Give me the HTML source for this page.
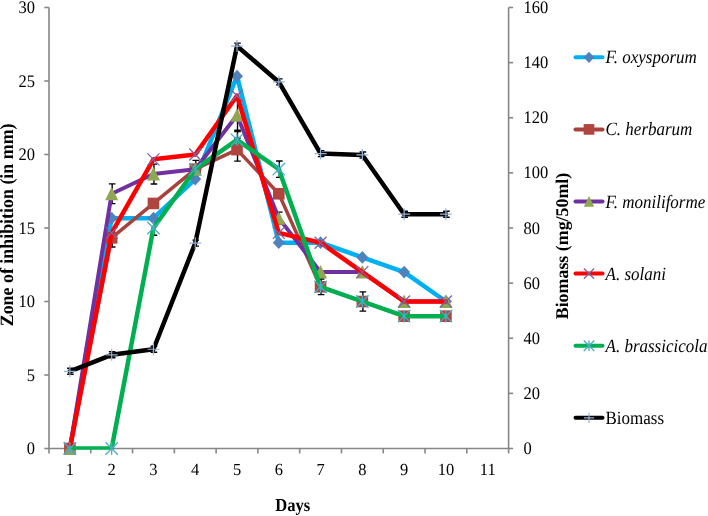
<!DOCTYPE html>
<html><head><meta charset="utf-8"><style>
html,body{margin:0;padding:0;background:#fff;width:708px;height:516px;overflow:hidden}
svg{display:block;filter:blur(0.3px)}
text{font-family:"Liberation Serif",serif;fill:#000;text-rendering:geometricPrecision}
</style></head><body>
<svg width="708" height="516" viewBox="0 0 708 516">
<rect width="708" height="516" fill="#fff"/>
<defs><clipPath id="pc"><rect x="0" y="0" width="708" height="449.8"/></clipPath></defs>

<g stroke="#868686" stroke-width="1.6" fill="none"><line x1="49.0" y1="7.5" x2="49.0" y2="448.5" /><line x1="508.6" y1="7.5" x2="508.6" y2="448.5" /><line x1="49.0" y1="448.5" x2="508.6" y2="448.5" /><line x1="44.3" y1="448.50" x2="49.0" y2="448.50" /><line x1="44.3" y1="375.00" x2="49.0" y2="375.00" /><line x1="44.3" y1="301.50" x2="49.0" y2="301.50" /><line x1="44.3" y1="228.00" x2="49.0" y2="228.00" /><line x1="44.3" y1="154.50" x2="49.0" y2="154.50" /><line x1="44.3" y1="81.00" x2="49.0" y2="81.00" /><line x1="44.3" y1="7.50" x2="49.0" y2="7.50" /><line x1="508.6" y1="448.50" x2="513.1" y2="448.50" /><line x1="508.6" y1="393.38" x2="513.1" y2="393.38" /><line x1="508.6" y1="338.25" x2="513.1" y2="338.25" /><line x1="508.6" y1="283.12" x2="513.1" y2="283.12" /><line x1="508.6" y1="228.00" x2="513.1" y2="228.00" /><line x1="508.6" y1="172.88" x2="513.1" y2="172.88" /><line x1="508.6" y1="117.75" x2="513.1" y2="117.75" /><line x1="508.6" y1="62.62" x2="513.1" y2="62.62" /><line x1="508.6" y1="7.50" x2="513.1" y2="7.50" /><line x1="49.00" y1="448.5" x2="49.00" y2="453.4" /><line x1="90.78" y1="448.5" x2="90.78" y2="453.4" /><line x1="132.56" y1="448.5" x2="132.56" y2="453.4" /><line x1="174.35" y1="448.5" x2="174.35" y2="453.4" /><line x1="216.13" y1="448.5" x2="216.13" y2="453.4" /><line x1="257.91" y1="448.5" x2="257.91" y2="453.4" /><line x1="299.69" y1="448.5" x2="299.69" y2="453.4" /><line x1="341.47" y1="448.5" x2="341.47" y2="453.4" /><line x1="383.25" y1="448.5" x2="383.25" y2="453.4" /><line x1="425.04" y1="448.5" x2="425.04" y2="453.4" /><line x1="466.82" y1="448.5" x2="466.82" y2="453.4" /><line x1="508.60" y1="448.5" x2="508.60" y2="453.4" /></g>
<text transform="translate(34.9,454.10) scale(1,1.07)" text-anchor="end" font-size="16.5">0</text><text transform="translate(34.9,380.60) scale(1,1.07)" text-anchor="end" font-size="16.5">5</text><text transform="translate(34.9,307.10) scale(1,1.07)" text-anchor="end" font-size="16.5">10</text><text transform="translate(34.9,233.60) scale(1,1.07)" text-anchor="end" font-size="16.5">15</text><text transform="translate(34.9,160.10) scale(1,1.07)" text-anchor="end" font-size="16.5">20</text><text transform="translate(34.9,86.60) scale(1,1.07)" text-anchor="end" font-size="16.5">25</text><text transform="translate(34.9,13.10) scale(1,1.07)" text-anchor="end" font-size="16.5">30</text><text transform="translate(523.5,454.10) scale(1,1.07)" font-size="16.5">0</text><text transform="translate(523.5,398.98) scale(1,1.07)" font-size="16.5">20</text><text transform="translate(523.5,343.85) scale(1,1.07)" font-size="16.5">40</text><text transform="translate(523.5,288.73) scale(1,1.07)" font-size="16.5">60</text><text transform="translate(523.5,233.60) scale(1,1.07)" font-size="16.5">80</text><text transform="translate(523.5,178.47) scale(1,1.07)" font-size="16.5">100</text><text transform="translate(523.5,123.35) scale(1,1.07)" font-size="16.5">120</text><text transform="translate(523.5,68.22) scale(1,1.07)" font-size="16.5">140</text><text transform="translate(523.5,13.10) scale(1,1.07)" font-size="16.5">160</text><text transform="translate(69.89,475.2) scale(1,1.03)" text-anchor="middle" font-size="16.5">1</text><text transform="translate(111.67,475.2) scale(1,1.03)" text-anchor="middle" font-size="16.5">2</text><text transform="translate(153.45,475.2) scale(1,1.03)" text-anchor="middle" font-size="16.5">3</text><text transform="translate(195.24,475.2) scale(1,1.03)" text-anchor="middle" font-size="16.5">4</text><text transform="translate(237.02,475.2) scale(1,1.03)" text-anchor="middle" font-size="16.5">5</text><text transform="translate(278.80,475.2) scale(1,1.03)" text-anchor="middle" font-size="16.5">6</text><text transform="translate(320.58,475.2) scale(1,1.03)" text-anchor="middle" font-size="16.5">7</text><text transform="translate(362.36,475.2) scale(1,1.03)" text-anchor="middle" font-size="16.5">8</text><text transform="translate(404.15,475.2) scale(1,1.03)" text-anchor="middle" font-size="16.5">9</text><text transform="translate(445.93,475.2) scale(1,1.03)" text-anchor="middle" font-size="16.5">10</text><text transform="translate(487.71,475.2) scale(1,1.03)" text-anchor="middle" font-size="16.5">11</text>
<text transform="translate(12.8,224.9) rotate(-90) scale(1,1.05)" text-anchor="middle" font-size="17.9" font-weight="bold">Zone of inhibition (in mm)</text>
<text transform="translate(567.8,246.0) rotate(-90)" text-anchor="middle" font-size="17.9" font-weight="bold">Biomass (mg/50ml)</text>
<text transform="translate(292.7,510.5) scale(1,1.1)" text-anchor="middle" font-size="16.6" font-weight="bold">Days</text>
<path d="M112.17 228.75L112.17 246.95M108.87 228.75L115.47 228.75M108.87 246.95L115.47 246.95M153.95 199.45L153.95 207.45M150.65 199.45L157.25 199.45M150.65 207.45L157.25 207.45M195.74 160.40L195.74 178.00M192.44 160.40L199.04 160.40M192.44 178.00L199.04 178.00M237.52 138.15L237.52 161.15M234.22 138.15L240.82 138.15M234.22 161.15L240.82 161.15M279.30 189.75L279.30 197.75M276.00 189.75L282.60 189.75M276.00 197.75L282.60 197.75M321.08 279.00L321.08 294.60M317.78 279.00L324.38 279.00M317.78 294.60L324.38 294.60M362.86 291.90L362.86 311.10M359.56 291.90L366.16 291.90M359.56 311.10L366.16 311.10M404.65 312.20L404.65 320.20M401.35 312.20L407.95 312.20M401.35 320.20L407.95 320.20M446.43 312.20L446.43 320.20M443.13 312.20L449.73 312.20M443.13 320.20L449.73 320.20M112.17 183.85L112.17 203.65M108.87 183.85L115.47 183.85M108.87 203.65L115.47 203.65M153.95 164.15L153.95 183.95M150.65 164.15L157.25 164.15M150.65 183.95L157.25 183.95M237.52 100.25L237.52 130.25M234.22 100.25L240.82 100.25M234.22 130.25L240.82 130.25M279.30 212.15L279.30 224.15M276.00 212.15L282.60 212.15M276.00 224.15L282.60 224.15M153.95 220.70L153.95 235.30M150.65 220.70L157.25 220.70M150.65 235.30L157.25 235.30M237.52 131.50L237.52 148.10M234.22 131.50L240.82 131.50M234.22 148.10L240.82 148.10M279.30 161.00L279.30 177.40M276.00 161.00L282.60 161.00M276.00 177.40L282.60 177.40M70.39 368.32L70.39 374.32M67.09 368.32L73.69 368.32M67.09 374.32L73.69 374.32M112.17 351.79L112.17 357.79M108.87 351.79L115.47 351.79M108.87 357.79L115.47 357.79M153.95 346.27L153.95 352.27M150.65 346.27L157.25 346.27M150.65 352.27L157.25 352.27M195.74 240.16L195.74 246.16M192.44 240.16L199.04 240.16M192.44 246.16L199.04 246.16M237.52 43.09L237.52 49.09M234.22 43.09L240.82 43.09M234.22 49.09L240.82 49.09M279.30 78.92L279.30 84.92M276.00 78.92L282.60 78.92M276.00 84.92L282.60 84.92M321.08 150.58L321.08 156.58M317.78 150.58L324.38 150.58M317.78 156.58L324.38 156.58M362.86 151.96L362.86 157.96M359.56 151.96L366.16 151.96M359.56 157.96L366.16 157.96M404.65 211.22L404.65 217.22M401.35 211.22L407.95 211.22M401.35 217.22L407.95 217.22M446.43 211.22L446.43 217.22M443.13 211.22L449.73 211.22M443.13 217.22L449.73 217.22" stroke="#000" stroke-width="1.4" fill="none"/>
<path d="M69.89 448.50L111.67 218.15L153.45 218.15L195.24 179.05L237.02 76.15L278.80 242.70L320.58 242.70L362.36 257.40L404.15 272.10L445.93 301.50" stroke="#00B0F0" stroke-width="4.5" fill="none" stroke-linejoin="round" stroke-linecap="round" clip-path="url(#pc)"/>
<path d="M69.89 442.10L75.84 448.50L69.89 454.90L63.94 448.50Z" fill="#4F81BD"/><path d="M111.67 211.75L117.62 218.15L111.67 224.55L105.72 218.15Z" fill="#4F81BD"/><path d="M153.45 211.75L159.41 218.15L153.45 224.55L147.50 218.15Z" fill="#4F81BD"/><path d="M195.24 172.65L201.19 179.05L195.24 185.45L189.28 179.05Z" fill="#4F81BD"/><path d="M237.02 69.75L242.97 76.15L237.02 82.55L231.07 76.15Z" fill="#4F81BD"/><path d="M278.80 236.30L284.75 242.70L278.80 249.10L272.85 242.70Z" fill="#4F81BD"/><path d="M320.58 236.30L326.53 242.70L320.58 249.10L314.63 242.70Z" fill="#4F81BD"/><path d="M362.36 251.00L368.32 257.40L362.36 263.80L356.41 257.40Z" fill="#4F81BD"/><path d="M404.15 265.70L410.10 272.10L404.15 278.50L398.19 272.10Z" fill="#4F81BD"/><path d="M445.93 295.10L451.88 301.50L445.93 307.90L439.98 301.50Z" fill="#4F81BD"/>
<path d="M69.89 448.50L111.67 237.85L153.45 203.45L195.24 169.20L237.02 149.65L278.80 193.75L320.58 286.80L362.36 301.50L404.15 316.20L445.93 316.20" stroke="#A9413D" stroke-width="3.5" fill="none" stroke-linejoin="round" stroke-linecap="round" clip-path="url(#pc)"/>
<rect x="64.09" y="442.70" width="11.60" height="11.60" fill="#B0453F"/><rect x="105.87" y="232.05" width="11.60" height="11.60" fill="#B0453F"/><rect x="147.65" y="197.65" width="11.60" height="11.60" fill="#B0453F"/><rect x="189.44" y="163.40" width="11.60" height="11.60" fill="#B0453F"/><rect x="231.22" y="143.85" width="11.60" height="11.60" fill="#B0453F"/><rect x="273.00" y="187.95" width="11.60" height="11.60" fill="#B0453F"/><rect x="314.78" y="281.00" width="11.60" height="11.60" fill="#B0453F"/><rect x="356.56" y="295.70" width="11.60" height="11.60" fill="#B0453F"/><rect x="398.35" y="310.40" width="11.60" height="11.60" fill="#B0453F"/><rect x="440.13" y="310.40" width="11.60" height="11.60" fill="#B0453F"/>
<path d="M69.89 448.50L111.67 193.75L153.45 174.05L195.24 169.20L237.02 115.25L278.80 218.15L320.58 272.10L362.36 272.10L404.15 301.50L445.93 301.50" stroke="#7030A0" stroke-width="4.0" fill="none" stroke-linejoin="round" stroke-linecap="round" clip-path="url(#pc)"/>
<path d="M69.89 441.48L76.39 455.00L63.39 455.00Z" fill="#8FA652"/><path d="M111.67 186.73L118.17 200.25L105.17 200.25Z" fill="#8FA652"/><path d="M153.45 167.03L159.95 180.55L146.95 180.55Z" fill="#8FA652"/><path d="M195.24 162.18L201.74 175.70L188.74 175.70Z" fill="#8FA652"/><path d="M237.02 108.23L243.52 121.75L230.52 121.75Z" fill="#8FA652"/><path d="M278.80 211.13L285.30 224.65L272.30 224.65Z" fill="#8FA652"/><path d="M320.58 265.08L327.08 278.60L314.08 278.60Z" fill="#8FA652"/><path d="M362.36 265.08L368.86 278.60L355.86 278.60Z" fill="#8FA652"/><path d="M404.15 294.48L410.65 308.00L397.65 308.00Z" fill="#8FA652"/><path d="M445.93 294.48L452.43 308.00L439.43 308.00Z" fill="#8FA652"/>
<path d="M69.89 448.50L111.67 232.85L153.45 159.35L195.24 154.50L237.02 95.70L278.80 232.85L320.58 242.70L362.36 272.10L404.15 301.50L445.93 301.50" stroke="#FF0000" stroke-width="4.5" fill="none" stroke-linejoin="round" stroke-linecap="round" clip-path="url(#pc)"/>
<path d="M63.89 442.50L75.89 454.50M75.89 442.50L63.89 454.50" stroke="#7F64A2" stroke-width="1.3" fill="none"/><path d="M105.67 226.85L117.67 238.85M117.67 226.85L105.67 238.85" stroke="#7F64A2" stroke-width="1.3" fill="none"/><path d="M147.45 153.35L159.45 165.35M159.45 153.35L147.45 165.35" stroke="#7F64A2" stroke-width="1.3" fill="none"/><path d="M189.24 148.50L201.24 160.50M201.24 148.50L189.24 160.50" stroke="#7F64A2" stroke-width="1.3" fill="none"/><path d="M231.02 89.70L243.02 101.70M243.02 89.70L231.02 101.70" stroke="#7F64A2" stroke-width="1.3" fill="none"/><path d="M272.80 226.85L284.80 238.85M284.80 226.85L272.80 238.85" stroke="#7F64A2" stroke-width="1.3" fill="none"/><path d="M314.58 236.70L326.58 248.70M326.58 236.70L314.58 248.70" stroke="#7F64A2" stroke-width="1.3" fill="none"/><path d="M356.36 266.10L368.36 278.10M368.36 266.10L356.36 278.10" stroke="#7F64A2" stroke-width="1.3" fill="none"/><path d="M398.15 295.50L410.15 307.50M410.15 295.50L398.15 307.50" stroke="#7F64A2" stroke-width="1.3" fill="none"/><path d="M439.93 295.50L451.93 307.50M451.93 295.50L439.93 307.50" stroke="#7F64A2" stroke-width="1.3" fill="none"/>
<path d="M69.89 448.50L111.67 448.50L153.45 228.00L195.24 169.20L237.02 139.80L278.80 169.20L320.58 286.80L362.36 301.50L404.15 316.20L445.93 316.20" stroke="#00B050" stroke-width="4.5" fill="none" stroke-linejoin="round" stroke-linecap="round" clip-path="url(#pc)"/>
<path d="M63.69 442.30L76.09 454.70M76.09 442.30L63.69 454.70M69.89 442.30L69.89 454.70" stroke="#4BACC6" stroke-width="1.3" fill="none"/><path d="M105.47 442.30L117.87 454.70M117.87 442.30L105.47 454.70M111.67 442.30L111.67 454.70" stroke="#4BACC6" stroke-width="1.3" fill="none"/><path d="M147.25 221.80L159.65 234.20M159.65 221.80L147.25 234.20M153.45 221.80L153.45 234.20" stroke="#4BACC6" stroke-width="1.3" fill="none"/><path d="M189.04 163.00L201.44 175.40M201.44 163.00L189.04 175.40M195.24 163.00L195.24 175.40" stroke="#4BACC6" stroke-width="1.3" fill="none"/><path d="M230.82 133.60L243.22 146.00M243.22 133.60L230.82 146.00M237.02 133.60L237.02 146.00" stroke="#4BACC6" stroke-width="1.3" fill="none"/><path d="M272.60 163.00L285.00 175.40M285.00 163.00L272.60 175.40M278.80 163.00L278.80 175.40" stroke="#4BACC6" stroke-width="1.3" fill="none"/><path d="M314.38 280.60L326.78 293.00M326.78 280.60L314.38 293.00M320.58 280.60L320.58 293.00" stroke="#4BACC6" stroke-width="1.3" fill="none"/><path d="M356.16 295.30L368.56 307.70M368.56 295.30L356.16 307.70M362.36 295.30L362.36 307.70" stroke="#4BACC6" stroke-width="1.3" fill="none"/><path d="M397.95 310.00L410.35 322.40M410.35 310.00L397.95 322.40M404.15 310.00L404.15 322.40" stroke="#4BACC6" stroke-width="1.3" fill="none"/><path d="M439.73 310.00L452.13 322.40M452.13 310.00L439.73 322.40M445.93 310.00L445.93 322.40" stroke="#4BACC6" stroke-width="1.3" fill="none"/>
<path d="M69.89 371.32L111.67 354.79L153.45 349.27L195.24 243.16L237.02 46.09L278.80 81.92L320.58 153.58L362.36 154.96L404.15 214.22L445.93 214.22" stroke="#000000" stroke-width="4.5" fill="none" stroke-linejoin="round" stroke-linecap="round" clip-path="url(#pc)"/>
<path d="M63.89 371.32L75.89 371.32M69.89 365.32L69.89 377.32" stroke="#95B3D7" stroke-width="1.2" fill="none"/><path d="M105.67 354.79L117.67 354.79M111.67 348.79L111.67 360.79" stroke="#95B3D7" stroke-width="1.2" fill="none"/><path d="M147.45 349.27L159.45 349.27M153.45 343.27L153.45 355.27" stroke="#95B3D7" stroke-width="1.2" fill="none"/><path d="M189.24 243.16L201.24 243.16M195.24 237.16L195.24 249.16" stroke="#95B3D7" stroke-width="1.2" fill="none"/><path d="M231.02 46.09L243.02 46.09M237.02 40.09L237.02 52.09" stroke="#95B3D7" stroke-width="1.2" fill="none"/><path d="M272.80 81.92L284.80 81.92M278.80 75.92L278.80 87.92" stroke="#95B3D7" stroke-width="1.2" fill="none"/><path d="M314.58 153.58L326.58 153.58M320.58 147.58L320.58 159.58" stroke="#95B3D7" stroke-width="1.2" fill="none"/><path d="M356.36 154.96L368.36 154.96M362.36 148.96L362.36 160.96" stroke="#95B3D7" stroke-width="1.2" fill="none"/><path d="M398.15 214.22L410.15 214.22M404.15 208.22L404.15 220.22" stroke="#95B3D7" stroke-width="1.2" fill="none"/><path d="M439.93 214.22L451.93 214.22M445.93 208.22L445.93 220.22" stroke="#95B3D7" stroke-width="1.2" fill="none"/>
<line x1="575.5" y1="57.30" x2="602.5" y2="57.30" stroke="#00B0F0" stroke-width="4.0" stroke-linecap="round"/>
<path d="M589.00 51.67L594.24 57.30L589.00 62.93L583.76 57.30Z" fill="#4F81BD"/>
<text transform="translate(605.5,63.30) scale(1,1.1)" font-size="17" font-style="italic">F. oxysporum</text>
<line x1="575.5" y1="129.40" x2="602.5" y2="129.40" stroke="#A9413D" stroke-width="4.0" stroke-linecap="round"/>
<rect x="583.66" y="124.06" width="10.67" height="10.67" fill="#B0453F"/>
<text transform="translate(605.5,135.40) scale(1,1.1)" font-size="17" font-style="italic">C. herbarum</text>
<line x1="575.5" y1="201.50" x2="602.5" y2="201.50" stroke="#7030A0" stroke-width="4.0" stroke-linecap="round"/>
<path d="M589.00 195.88L594.20 206.70L583.80 206.70Z" fill="#8FA652"/>
<text transform="translate(605.5,207.50) scale(1,1.1)" font-size="17" font-style="italic">F. moniliforme</text>
<line x1="575.5" y1="273.60" x2="602.5" y2="273.60" stroke="#FF0000" stroke-width="4.0" stroke-linecap="round"/>
<path d="M583.90 268.50L594.10 278.70M594.10 268.50L583.90 278.70" stroke="#7F64A2" stroke-width="1.3" fill="none"/>
<text transform="translate(605.5,279.60) scale(1,1.1)" font-size="17" font-style="italic">A. solani</text>
<line x1="575.5" y1="345.70" x2="602.5" y2="345.70" stroke="#00B050" stroke-width="4.0" stroke-linecap="round"/>
<path d="M583.73 340.43L594.27 350.97M594.27 340.43L583.73 350.97M589.00 340.43L589.00 350.97" stroke="#4BACC6" stroke-width="1.3" fill="none"/>
<text transform="translate(605.5,351.70) scale(1,1.1)" font-size="17" font-style="italic">A. brassicicola</text>
<line x1="575.5" y1="417.80" x2="602.5" y2="417.80" stroke="#000000" stroke-width="4.0" stroke-linecap="round"/>
<path d="M583.90 417.80L594.10 417.80M589.00 412.70L589.00 422.90" stroke="#95B3D7" stroke-width="1.2" fill="none"/>
<text transform="translate(605.5,423.80) scale(1,1.1)" font-size="17">Biomass</text>
</svg></body></html>
